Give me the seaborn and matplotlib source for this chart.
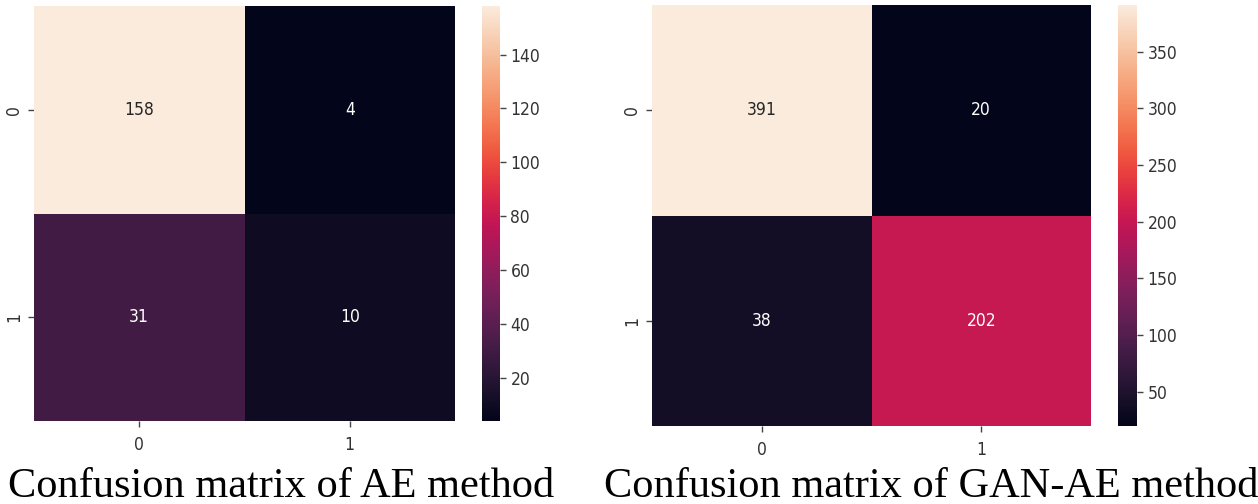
import numpy as np
import pandas as pd
import matplotlib
matplotlib.use("Agg")
import matplotlib.pyplot as plt
import seaborn as sns

# Data
labels = ["0", "1"]
ae_matrix = [[158, 4], [31, 10]]
gan_ae_matrix = [[391, 20], [38, 202]]
captions = ["Confusion matrix of AE method", "Confusion matrix of GAN-AE method"]
ae_cbar_ticks = [20, 40, 60, 80, 100, 120, 140]
gan_cbar_ticks = [50, 100, 150, 200, 250, 300, 350]

sns.set_style("white")
plt.rcParams['font.family'] = ['DejaVu Sans']

W, H = 1258, 504
fig = plt.figure(figsize=(W / 100, H / 100), dpi=100)

def box(x0, y0, x1, y1):
    return [x0 / W, 1 - y1 / H, (x1 - x0) / W, (y1 - y0) / H]

panels = [
    (ae_matrix, ae_cbar_ticks, box(34, 6, 455, 421), box(482, 6, 500, 421), 281),
    (gan_ae_matrix, gan_cbar_ticks, box(652, 5, 1091, 426), box(1118, 5, 1137, 426), 931),
]

for (mat, cticks, axpos, cpos, capx), cap in zip(panels, captions):
    ax = fig.add_axes(axpos)
    cax = fig.add_axes(cpos)
    df = pd.DataFrame(mat, index=labels, columns=labels)
    sns.heatmap(df, annot=True, fmt="d", ax=ax, cbar_ax=cax,
                annot_kws={"fontsize": 12.5, "fontstretch": "condensed"})
    ax.tick_params(axis="both", labelsize=12.5, length=4, width=1, color="#444444")
    for t in ax.get_xticklabels() + ax.get_yticklabels():
        t.set_fontstretch("condensed")
        t.set_color("#333333")
    ax.tick_params(axis="x", bottom=True, pad=7)
    ax.tick_params(axis="y", left=True, pad=4)
    cax.set_yticks(cticks)
    cax.tick_params(labelsize=12.5, length=4, width=1, right=True, color="#444444")
    for t in cax.get_yticklabels():
        t.set_fontstretch("condensed")
        t.set_color("#333333")
    fig.text(capx / W, 1 - 497 / H, cap, ha="center", va="baseline",
             fontsize=30.5, family=["Liberation Serif", "DejaVu Serif"], color="black")

fig.savefig("out.png", dpi=100)
